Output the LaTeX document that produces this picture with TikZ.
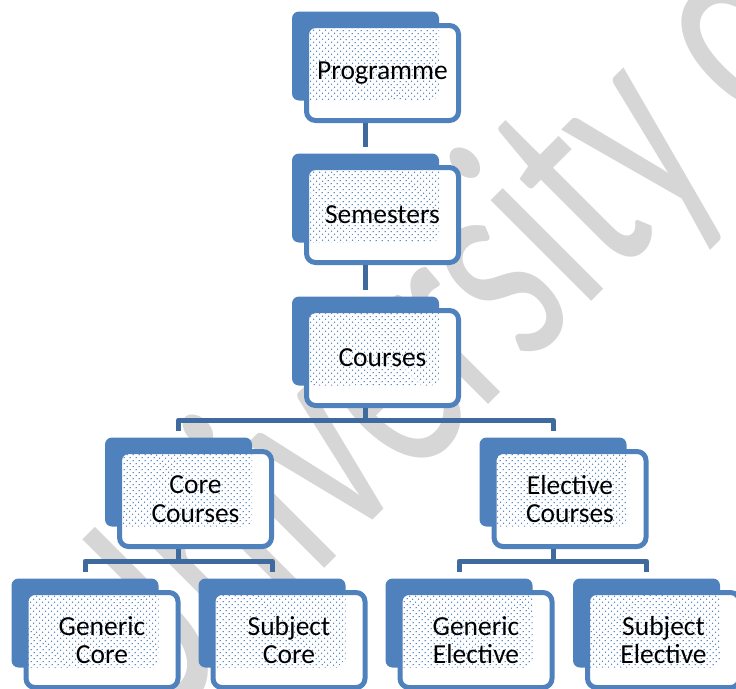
\documentclass[tikz,border=0pt]{standalone}
\usepackage{fontspec}
\setmainfont{Carlito}
\usetikzlibrary{patterns.meta}
\definecolor{boxblue}{RGB}{79,129,189}
\definecolor{linkblue}{RGB}{62,106,158}
\definecolor{markgray}{RGB}{214,214,214}
\begin{document}
\begin{tikzpicture}[x=1pt,y=-1pt,line join=round]
    \tikzset{backbox/.style={fill=boxblue,rounded corners=7pt,minimum width=147pt,minimum height=89pt,inner sep=0pt},
        frontbox/.style={draw=boxblue,line width=5pt,fill=white,rounded corners=9pt,minimum width=152pt,minimum height=95pt,
            inner sep=0pt,align=center,font=\fontsize{27.5}{28.5}\selectfont,
            path picture={\fill[pattern={Dots[distance=4pt,radius=0.8pt,angle=45]},pattern color=boxblue]
                (#1.south west) rectangle (#1.north east);}},
        link/.style={draw=linkblue,line width=5pt}}
    \clip (0,0) rectangle (736,688);
    % watermark
    \node[text=markgray,font=\fontsize{200}{200}\selectfont,rotate=45,yscale=1.49,anchor=base west,inner sep=0pt] (mark) at (149,744) {University of};
    % boxes
    \foreach \n/\x/\y/\t in {prog/365.5/56/Programme, sem/365.5/198/Semesters, crs/365.5/341/Courses,
        core/178.5/482/{Core\\Courses}, elec/553/482/{Elective\\Courses},
        gcore/85/623/{Generic\\Core}, score/272/623/{Subject\\Core},
        gelec/459/623/{Generic\\Elective}, selec/646.5/623/{Subject\\Elective}}
    {
        \node[backbox] (\n-b) at (\x,\y) {};
        \node[frontbox=\n-b] (\n) at (\x+17,\y+17) {\t};
    }
    % connectors
    \draw[link] (prog.south -| prog-b) -- ([yshift=6pt]sem-b.north);
    \draw[link] (sem.south -| sem-b) -- ([yshift=6pt]crs-b.north);
    \foreach \p/\l/\r/\x/\h in {crs/core/elec/365.5/420, core/gcore/score/178.5/561, elec/gelec/selec/553/561}
    {
        \coordinate (\p-bar) at (\x,\h);
        \draw[link] (\p.south -| \p-b) -- (\p-bar);
        \draw[link] ([yshift=6pt]\l-b.north) |- (\p-bar) -| ([yshift=6pt]\r-b.north);
    }
\end{tikzpicture}
\end{document}
